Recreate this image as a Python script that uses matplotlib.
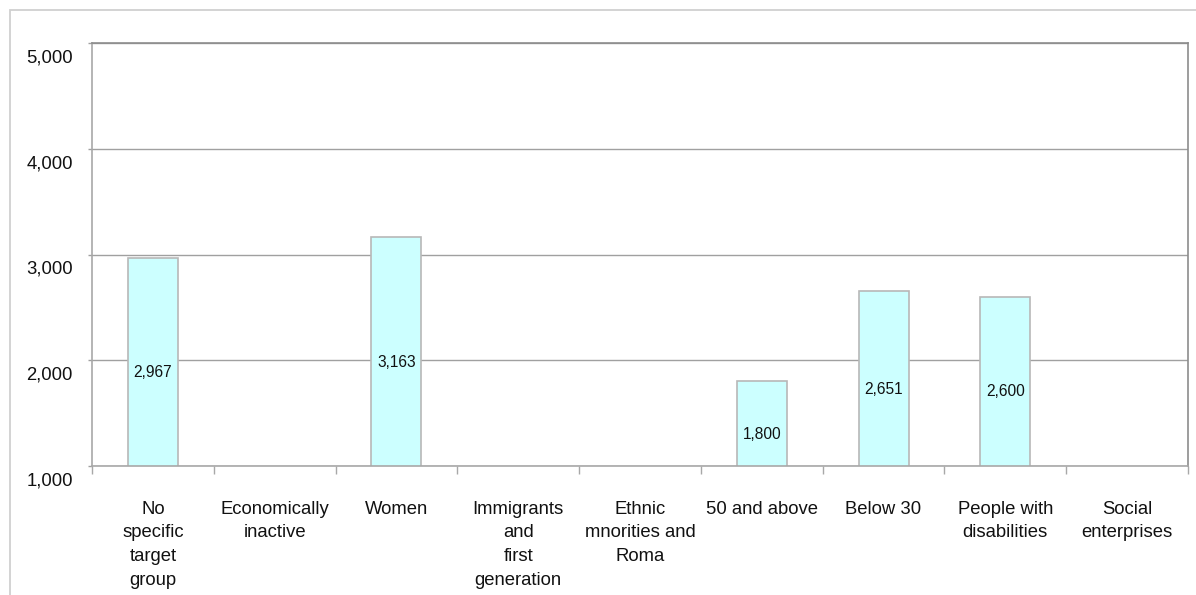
import numpy as np
import matplotlib
matplotlib.use("Agg")
import matplotlib.pyplot as plt
from matplotlib.patches import Rectangle
from matplotlib.transforms import ScaledTranslation
from matplotlib.ticker import FixedLocator, FuncFormatter

plt.rcParams['font.family'] = ['Liberation Sans', 'DejaVu Sans']

categories = [
    "No\nspecific\ntarget\ngroup",
    "Economically\ninactive",
    "Women",
    "Immigrants\nand\nfirst\ngeneration",
    "Ethnic\nmnorities and\nRoma",
    "50 and above",
    "Below 30",
    "People with\ndisabilities",
    "Social\nenterprises",
]
values = [2967, np.nan, 3163, np.nan, np.nan, 1800, 2651, 2600, np.nan]
y_ticks = [1000, 2000, 3000, 4000, 5000]

W, H, DPI = 1196, 595, 100
fig = plt.figure(figsize=(W / DPI, H / DPI), dpi=DPI)
fig.patch.set_facecolor("white")

# outer frame (left and top edges visible)
fig.add_artist(Rectangle((10 / W, -0.2), 1.5, (H - 10) / H + 0.2,
                         transform=fig.transFigure, fill=False,
                         edgecolor="#d0d0d0", linewidth=1.3))

left, right, top, bottom = 92, 1188, 43, 466
ax = fig.add_axes([left / W, 1 - bottom / H, (right - left) / W, (bottom - top) / H])

x = np.arange(len(categories))
ax.set_xlim(-0.5, len(categories) - 0.5)
ax.set_ylim(y_ticks[0], y_ticks[-1])

ax.set_axisbelow(True)
ax.yaxis.grid(True, color="#a0a0a0", linewidth=1.0)
ax.xaxis.grid(False)

bars = ax.bar(x, values, width=0.41, color="#ccffff", edgecolor="#b8b8b8",
              linewidth=1.2, zorder=2)

# value labels inside the bars
for xi, v in zip(x, values):
    if np.isnan(v):
        continue
    ymid = (y_ticks[0] + v) / 2 - 100
    ax.text(xi, ymid, f"{int(v):,}", ha="center", va="center",
            fontsize=11.2, color="#111111", zorder=3)

for s in ax.spines.values():
    s.set_color("#8c8c8c")
    s.set_linewidth(1.2)
ax.spines["left"].set_color("#a8a8a8")
ax.spines["bottom"].set_color("#a8a8a8")

# y axis
ax.yaxis.set_major_locator(FixedLocator(y_ticks))
ax.yaxis.set_major_formatter(FuncFormatter(lambda v, p: f"{int(v):,}"))
ax.tick_params(axis="y", length=3, width=1, color="#a0a0a0", pad=10.8,
               labelsize=13.3, labelcolor="#111111")
for lab in ax.get_yticklabels():
    lab.set_transform(lab.get_transform() +
                      ScaledTranslation(0, -13 / DPI, fig.dpi_scale_trans))

# x axis: ticks at category boundaries, labels at centres
ax.xaxis.set_major_locator(FixedLocator(np.arange(len(categories) + 1) - 0.5))
ax.xaxis.set_major_formatter(FuncFormatter(lambda v, p: ""))
ax.xaxis.set_minor_locator(FixedLocator(x))
ax.set_xticklabels(categories, minor=True)
ax.tick_params(axis="x", which="major", length=6, width=1, color="#a8a8a8")
ax.tick_params(axis="x", which="minor", length=0, pad=25,
               labelsize=13.3, labelcolor="#111111")
for lab in ax.get_xticklabels(minor=True):
    lab.set_linespacing(1.52)
    lab.set_verticalalignment("top")

fig.savefig("out.png", dpi=DPI, facecolor="white")
